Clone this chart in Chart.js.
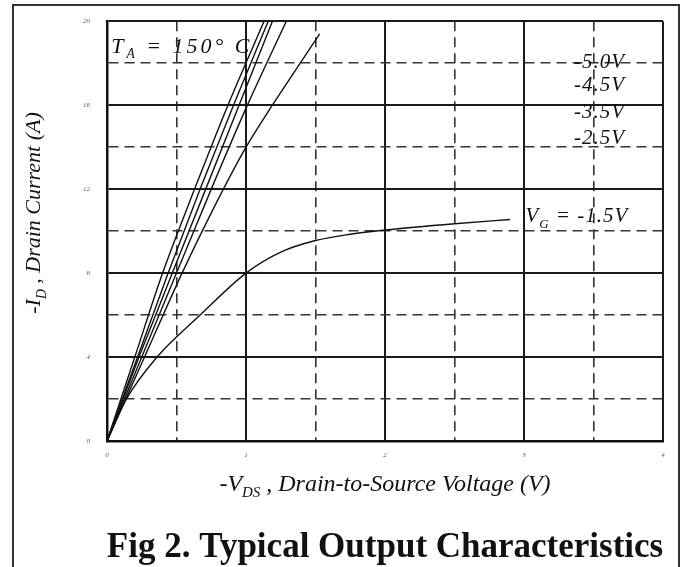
<!DOCTYPE html>
<html lang="en">
<head>
<meta charset="UTF-8">
<title>Fig 2. Typical Output Characteristics</title>
<script src="https://cdn.jsdelivr.net/npm/chart.js"></script>
<style>
  html, body { margin: 0; padding: 0; background: #fff; }
  #wrap { width: 687px; height: 567px; }
</style>
</head>
<body>
<div id="wrap"><canvas id="outputChart"></canvas></div>
<script>
// -VDS (V) and -ID (A), one pair per curve
const vdsA = [0, 0.20, 0.40, 0.63, 0.87, 1.13];
const idA  = [0, 4, 8, 12, 16, 20];
const vdsB = [0, 0.22, 0.44, 0.67, 0.91, 1.16];
const idB  = [0, 4, 8, 12, 16, 20];
const vdsC = [0, 0.23, 0.47, 0.71, 0.95, 1.19];
const idC  = [0, 4, 8, 12, 16, 20];
const vdsD = [0, 0.25, 0.50, 0.75, 1.01, 1.29];
const idD  = [0, 4, 8, 12, 16, 20];
const vdsE = [0, 0.27, 0.54, 0.76, 1.00, 1.19, 1.39, 1.53];
const idE  = [0, 4, 8, 11, 14, 16, 18, 19.4];
const vdsF = [0, 0.14, 0.36, 0.67, 1.00, 1.25, 1.50, 1.75, 2.00, 2.50, 2.90];
const idF  = [0, 2, 4, 6, 8, 9.0, 9.55, 9.85, 10.05, 10.35, 10.55];

const curveNames = ['-5.0V', '-4.5V', '-4.0V', '-3.5V', '-2.5V', '-1.5V'];
const gateLabels = ['-5.0V', '-4.5V', '-3.5V', '-2.5V'];
const xTicks = [0, 1, 2, 3, 4];
const yTicks = [0, 4, 8, 12, 16, 20];

function toPoints(xs, ys) {
  return xs.map((x, i) => ({ x: x, y: ys[i] }));
}

const curves = [[vdsA, idA], [vdsB, idB], [vdsC, idC], [vdsD, idD], [vdsE, idE], [vdsF, idF]];

const SERIF = "'Liberation Serif', 'DejaVu Serif', serif";

// text with a subscript part, e.g. -I_D
function drawParts(ctx, parts, x, y, size, align) {
  let total = 0;
  parts.forEach(p => {
    ctx.font = 'italic ' + (p.sub ? size * 0.62 : size) + 'px ' + SERIF;
    total += ctx.measureText(p.t).width;
  });
  let cx = align === 'center' ? x - total / 2 : x;
  parts.forEach(p => {
    ctx.font = 'italic ' + (p.sub ? size * 0.62 : size) + 'px ' + SERIF;
    ctx.fillText(p.t, cx, p.sub ? y + size * 0.25 : y);
    cx += ctx.measureText(p.t).width;
  });
}

const textPlugin = {
  id: 'figText',
  afterDraw(chart) {
    const ctx = chart.ctx;
    const sx = chart.scales.x, sy = chart.scales.y;
    const area = chart.chartArea;
    ctx.save();
    ctx.fillStyle = '#111';
    ctx.textBaseline = 'alphabetic';
    ctx.textAlign = 'left';

    // outer frame
    ctx.strokeStyle = '#333';
    ctx.lineWidth = 2;
    ctx.strokeRect(13, 5, chart.width - 21, chart.height + 10);

    // temperature
    ctx.letterSpacing = '3px';
    drawParts(ctx, [{ t: 'T' }, { t: 'A', sub: true }, { t: ' = 150° C' }],
      sx.getPixelForValue(0.03), sy.getPixelForValue(18.5), 22, 'left');

    // gate voltage labels
    ctx.letterSpacing = '1px';
    const labelI = [18.1, 17.0, 15.7, 14.5];
    gateLabels.forEach((t, i) => {
      drawParts(ctx, [{ t: t }], sx.getPixelForValue(3.36), sy.getPixelForValue(labelI[i]) + 7, 21, 'left');
    });
    drawParts(ctx, [{ t: 'V' }, { t: 'G', sub: true }, { t: ' = -1.5V' }],
      sx.getPixelForValue(3.01), sy.getPixelForValue(10.75) + 7, 21, 'left');
    ctx.letterSpacing = '0px';

    // axis titles
    drawParts(ctx, [{ t: '-V' }, { t: 'DS', sub: true }, { t: ' , Drain-to-Source Voltage (V)' }],
      (area.left + area.right) / 2, 491, 24, 'center');
    ctx.save();
    ctx.translate(40, 213);
    ctx.rotate(-Math.PI / 2);
    drawParts(ctx, [{ t: '-I' }, { t: 'D', sub: true }, { t: ' , Drain Current (A)' }], 0, 0, 22, 'center');
    ctx.restore();

    // caption
    ctx.font = 'bold 35px ' + SERIF;
    ctx.textAlign = 'center';
    ctx.fillText('Fig 2. Typical Output Characteristics', (area.left + area.right) / 2, 557);
    ctx.restore();
  }
};

function isMajor(axis, v) {
  return axis === 'x' ? Number.isInteger(v) : v % 4 === 0;
}

function gridFor(axis) {
  return {
    color: c => (c.tick && isMajor(axis, c.tick.value)) ? '#1a1a1a' : '#333',
    lineWidth: c => (c.tick && isMajor(axis, c.tick.value)) ? 2 : 1.6,
    drawTicks: false
  };
}

function borderFor(axis) {
  return {
    display: true,
    color: '#111',
    width: 2.5,
    dash: c => (c.tick && !isMajor(axis, c.tick.value)) ? [10, 6] : []
  };
}

new Chart(document.getElementById('outputChart'), {
  type: 'scatter',
  data: {
    datasets: curves.map((c, i) => ({
      label: curveNames[i],
      data: toPoints(c[0], c[1]),
      showLine: true,
      borderColor: '#111',
      borderWidth: 1.4,
      pointRadius: 0,
      cubicInterpolationMode: 'monotone'
    }))
  },
  options: {
    responsive: true,
    maintainAspectRatio: false,
    animation: false,
    devicePixelRatio: 1,
    layout: { padding: { top: 21, right: 24, left: 0, bottom: 0 } },
    plugins: { legend: { display: false }, tooltip: { enabled: false } },
    scales: {
      x: {
        type: 'linear', min: 0, max: 4,
        afterFit: s => { s.height = 126; },
        ticks: {
          stepSize: 0.5,
          padding: 10,
          color: '#555',
          font: { family: SERIF, size: 7, style: 'italic' },
          callback: v => xTicks.includes(v) ? String(v) : ''
        },
        grid: gridFor('x'),
        border: borderFor('x')
      },
      y: {
        type: 'linear', min: 0, max: 20,
        afterFit: s => { s.width = 107; },
        ticks: {
          stepSize: 2,
          padding: 17,
          color: '#555',
          font: { family: SERIF, size: 7, style: 'italic' },
          callback: v => yTicks.includes(v) ? String(v) : ''
        },
        grid: gridFor('y'),
        border: borderFor('y')
      }
    }
  },
  plugins: [textPlugin]
});
</script>
</body>
</html>
